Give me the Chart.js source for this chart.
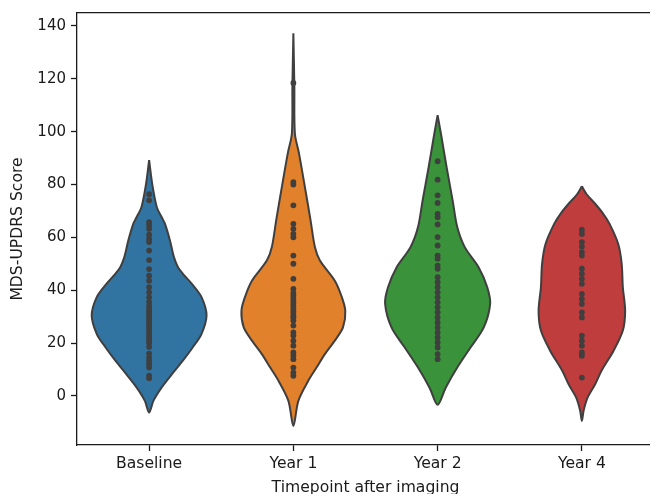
<!DOCTYPE html>
<html>
<head>
<meta charset="utf-8">
<script src="https://cdn.jsdelivr.net/npm/chart.js@4.4.1/dist/chart.umd.min.js"></script>
<style>
    html, body { margin: 0; padding: 0; width: 650px; height: 494px; overflow: hidden; background: #fff; }
    canvas { display: block; }
</style>
</head>
<body>
<canvas id="myChart" width="658" height="510"></canvas>
<script>
/** 分组 */
var categories = ['Baseline', 'Year 1', 'Year 2', 'Year 4']
var yTicks = [0, 20, 40, 60, 80, 100, 120, 140]

/** 每组的散点（MDS-UPDRS 分数） */
var baselineScores = [76.3, 74, 65.7, 64.5, 63.2, 61, 59.4, 58.2, 55, 51.4, 48, 45.5, 43.6, 41.1, 39.2, 37.3,
    35.5, 34, 33, 32, 31, 30, 29, 28, 27, 26, 25, 24, 23, 22, 21, 20, 18.5, 16, 14.5, 13.3, 12, 10.7, 7.6, 6.7]
var year1Scores = [118.4, 80.9, 80, 72.1, 65.1, 63.2, 61.3, 60, 53.1, 50, 44.3, 40.5, 39, 38, 37, 36, 35, 34,
    33, 32, 31, 30, 29.5, 28.5, 26.6, 24, 22.8, 20.9, 19, 16.4, 15.2, 13.9, 10.7, 8.8, 7.6]
var year2Scores = [88.8, 81.8, 75.9, 73, 68.9, 67.6, 64.9, 60.1, 56.9, 53.1, 51.9, 49.3, 48.1, 44.9, 43, 41.1,
    39.2, 37.3, 35.4, 33.5, 31.6, 29.7, 27.8, 25.9, 24, 22.1, 20.2, 18.3, 15.8, 13.9]
var year4Scores = [62.9, 61.3, 58.2, 56.5, 54.4, 53.1, 48.1, 46.2, 44.3, 42.4, 38.6, 36.7, 34.8, 31.6, 29.7,
    22.8, 20.9, 19, 16.4, 15.2, 6.9]

/** 小提琴轮廓：[分数, 相对半宽] 从上到下 */
var baselineOutline = [[89.2, 0], [79.7, 0.057], [71.4, 0.133], [67.6, 0.218], [65.1, 0.275], [58.8, 0.361],
    [52.5, 0.43], [48.7, 0.5], [46.2, 0.585], [42.4, 0.74], [37.3, 0.91], [30.4, 0.995], [23.4, 0.907],
    [18.4, 0.757], [13.3, 0.585], [8.2, 0.396], [3.2, 0.218], [-1.9, 0.074], [-6.3, 0]]
var year1Outline = [[137.2, 0], [116.9, 0.017], [99.3, 0.026], [91.7, 0.098], [79, 0.2], [66.4, 0.298],
    [56.3, 0.373], [51.2, 0.46], [43.6, 0.718], [37.9, 0.831], [32.2, 0.9], [25.9, 0.86], [20.9, 0.718],
    [15.8, 0.546], [10.7, 0.401], [5.7, 0.258], [-1.9, 0.086], [-11.4, 0]]
var year2Outline = [[106.2, 0], [99.3, 0.057], [86.6, 0.155], [74, 0.26], [63.9, 0.34], [56.3, 0.47],
    [48.7, 0.71], [41.1, 0.86], [34.8, 0.91], [25.9, 0.8], [18.3, 0.57], [10.7, 0.34], [3.1, 0.14], [-3.4, 0]]
var year4Outline = [[79.3, 0], [76.2, 0.086], [72.7, 0.23], [68.9, 0.37], [65.1, 0.48], [57.5, 0.63], [50, 0.69],
    [41.1, 0.71], [32.2, 0.75], [24.7, 0.71], [17.1, 0.55], [9.5, 0.34], [4.4, 0.23], [-0.6, 0.1],
    [-5.6, 0.03], [-9.5, 0]]

var violinColors = ['#3274a1', '#e1812c', '#3a923a', '#c03d3e']
var inkColor = '#3f3f3f'
var axisColor = '#1a1a1a'

var violin = {
    scores: [baselineScores, year1Scores, year2Scores, year4Scores],
    outlines: [baselineOutline, year1Outline, year2Outline, year4Outline],
    halfWidth: 0.4,
    init: function () {
        violin.funcs.createChart()
    },
    funcs: {
        // 左边从上到下，右边从下到上，回到顶点闭合
        outlinePoints: function (i, outline) {
            var pts = []
            outline.forEach(function (p) {
                pts.push({x: i - p[1] * violin.halfWidth, y: p[0]})
            })
            for (var k = outline.length - 2; k >= 0; k--) {
                pts.push({x: i + outline[k][1] * violin.halfWidth, y: outline[k][0]})
            }
            return pts
        },
        buildDatasets: function () {
            var sets = []
            violin.scores.forEach(function (s, i) {
                sets.push({
                    data: s.map(function (v) { return {x: i, y: v} }),
                    pointRadius: 2.9,
                    pointBackgroundColor: inkColor,
                    pointBorderWidth: 0,
                    showLine: false,
                    order: 0
                })
            })
            violin.outlines.forEach(function (o, i) {
                sets.push({
                    data: violin.funcs.outlinePoints(i, o),
                    showLine: true,
                    fill: 'shape',
                    tension: 0.3,
                    backgroundColor: violinColors[i],
                    borderColor: inkColor,
                    borderWidth: 2,
                    pointRadius: 0,
                    order: 1
                })
            })
            return sets
        },
        createChart: function () {
            var font = {family: 'DejaVu Sans', size: 15.6}
            var tickFont = {family: 'DejaVu Sans', size: 15}
            var frame = {
                id: 'frame',
                afterDraw: function (chart) {
                    var a = chart.chartArea, ctx = chart.ctx
                    var w = 1.3
                    var y = Math.round(a.top - w / 2) + w / 2
                    ctx.save()
                    ctx.strokeStyle = axisColor
                    ctx.lineWidth = w
                    ctx.beginPath()
                    ctx.moveTo(a.left, y)
                    ctx.lineTo(a.right, y)
                    ctx.stroke()
                    ctx.restore()
                }
            }
            var ctx = document.getElementById('myChart').getContext('2d')
            new Chart(ctx, {
                type: 'scatter',
                data: {datasets: violin.funcs.buildDatasets()},
                options: {
                    responsive: false,
                    animation: false,
                    events: [],
                    layout: {padding: {top: 13, left: 0, right: 0, bottom: 0}},
                    plugins: {legend: {display: false}, tooltip: {enabled: false}},
                    scales: {
                        x: {
                            type: 'linear',
                            min: -0.5,
                            max: 3.5,
                            afterBuildTicks: function (scale) {
                                scale.ticks = categories.map(function (c, i) { return {value: i} })
                            },
                            afterFit: function (scale) {
                                scale.height = 65
                                scale.paddingLeft = 0
                                scale.paddingRight = 0
                            },
                            ticks: {
                                color: axisColor, font: font, padding: 4, maxRotation: 0, autoSkip: false,
                                callback: function (v) { return categories[v] }
                            },
                            grid: {drawOnChartArea: false, tickLength: 6, color: axisColor, tickWidth: 1.3},
                            border: {color: axisColor, width: 1.3},
                            title: {display: true, text: 'Timepoint after imaging', color: axisColor, font: font,
                                padding: {top: 0, bottom: 12.5}}
                        },
                        y: {
                            min: -18.6,
                            max: 144.9,
                            afterBuildTicks: function (scale) {
                                scale.ticks = yTicks.map(function (v) { return {value: v} })
                            },
                            afterFit: function (scale) {
                                scale.width = 77
                                scale.paddingTop = 0
                                scale.paddingBottom = 0
                            },
                            ticks: {color: axisColor, font: tickFont, padding: 5},
                            grid: {drawOnChartArea: false, tickLength: 6, color: axisColor, tickWidth: 1.3},
                            border: {color: axisColor, width: 1.3},
                            title: {display: true, text: 'MDS-UPDRS Score', color: axisColor, font: font,
                                padding: {top: 9, bottom: 0}}
                        }
                    }
                },
                plugins: [frame]
            })
        }
    }
}
violin.init()
</script>
</body>
</html>
